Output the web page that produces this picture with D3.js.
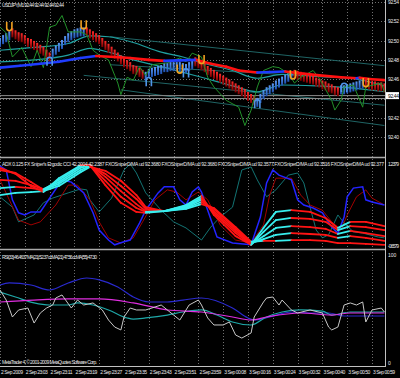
<!DOCTYPE html>
<html>
<head>
<meta charset="utf-8">
<script src="https://cdn.jsdelivr.net/npm/d3@7"></script>
<style>
body { margin: 0; background: #000; }
svg text { font-family: "Liberation Sans", Arial, sans-serif; fill: #e8e8e8; }
</style>
</head>
<body>
<div id="chart"></div>
<script>
// ---- data (bar index = 1 minute) ----
const timeLabels = ["2 Sep 2009", "2 Sep 23:03", "2 Sep 23:11", "2 Sep 23:19", "2 Sep 23:27", "2 Sep 23:35",
  "2 Sep 23:43", "2 Sep 23:51", "2 Sep 23:59", "3 Sep 00:08", "3 Sep 00:16", "3 Sep 00:24",
  "3 Sep 00:32", "3 Sep 00:40", "3 Sep 00:50", "3 Sep 00:59"];
const labelBars = [0, 8, 16, 24, 32, 40, 48, 56, 64, 72, 80, 88, 96, 104, 112, 120];

const priceTicks = [92.40, 92.42, 92.44, 92.46, 92.48, 92.50, 92.52, 92.54];
const bidPrice = 92.443;
const askPrice = 92.440;

// heiken-ashi style staircase, one value per bar, and runs of direction (1 up, -1 down)
const haValues = [
  92.498, 92.501, 92.503, 92.505,
  92.508, 92.506, 92.504, 92.503, 92.501, 92.498, 92.497, 92.495, 92.493, 92.491, 92.489, 92.486, 92.483,
  92.487, 92.490, 92.493, 92.496, 92.500, 92.503, 92.505, 92.507, 92.508, 92.509, 92.509,
  92.509, 92.507, 92.505, 92.503, 92.501, 92.498, 92.495, 92.492, 92.489, 92.486, 92.483, 92.480, 92.477, 92.475, 92.473, 92.470, 92.469, 92.467, 92.465,
  92.463, 92.466, 92.467, 92.468, 92.469, 92.470, 92.472, 92.472, 92.473, 92.473, 92.473, 92.473, 92.472, 92.471, 92.473, 92.475,
  92.478, 92.476, 92.474, 92.472, 92.469, 92.467, 92.465, 92.463, 92.461, 92.459, 92.457, 92.455, 92.453, 92.451, 92.449, 92.447, 92.445, 92.442, 92.440, 92.438,
  92.436, 92.440, 92.444, 92.447, 92.449, 92.451, 92.454, 92.456, 92.458, 92.460, 92.462, 92.464,
  92.465, 92.464, 92.463, 92.462, 92.461, 92.460, 92.459, 92.457, 92.456, 92.454, 92.453, 92.451, 92.450, 92.448, 92.447,
  92.449, 92.449, 92.450, 92.451, 92.452, 92.453, 92.454, 92.455,
  92.455, 92.454, 92.453, 92.453, 92.452, 92.452, 92.451
];
const haRuns = [[4, 1], [13, -1], [11, 1], [19, -1], [16, 1], [20, -1], [12, 1], [15, -1], [8, 1], [7, -1]];

const buySignals = [[16, 92.479], [48, 92.458], [60, 92.467], [83, 92.435], [111, 92.452]];
const sellSignals = [[3, 92.514], [27, 92.516], [58, 92.470], [65, 92.480], [94.5, 92.464], [118, 92.456]];

const trendMA = [[0, 92.472], [6.5, 92.474], [13, 92.476], [19, 92.478], [26, 92.482], [31, 92.484], [37, 92.483],
  [42, 92.482], [48, 92.480], [53, 92.479], [58, 92.4795], [63.5, 92.480], [68, 92.476], [73, 92.473], [77, 92.469],
  [83, 92.467], [87, 92.4675], [92, 92.468], [97, 92.466], [103, 92.464], [110, 92.462], [115, 92.461],
  [116, 92.4615], [120, 92.460], [124, 92.459]];

const bandUpper = [[0, 92.490], [11, 92.493], [22, 92.497], [29, 92.505], [35, 92.504], [43, 92.498], [52, 92.488],
  [59, 92.483], [65, 92.477], [75, 92.469], [83, 92.461], [91, 92.465], [102, 92.463], [113, 92.461], [124, 92.453]];
const bandLower = [[0, 92.478], [11, 92.480], [22, 92.485], [29, 92.492], [35, 92.488], [43, 92.480], [52, 92.473],
  [59, 92.467], [65, 92.462], [75, 92.453], [83, 92.447], [91, 92.454], [102, 92.453], [113, 92.451], [124, 92.447]];

const closes = [[0, 92.514], [2, 92.508], [4, 92.483], [7, 92.493], [10, 92.473], [12, 92.490], [14, 92.472],
  [16, 92.514], [18, 92.516], [20, 92.526], [22, 92.509], [26, 92.509], [28, 92.506], [30, 92.490], [32, 92.485],
  [35, 92.480], [37, 92.464], [38, 92.456], [39, 92.444], [41, 92.462], [43, 92.459], [45, 92.473], [47, 92.464],
  [49, 92.475], [54, 92.477], [58, 92.482], [60, 92.478], [62, 92.487], [65, 92.483], [67, 92.462], [69, 92.452],
  [73, 92.438], [77, 92.431], [79, 92.412], [81, 92.428], [83, 92.452], [85, 92.469], [88, 92.473], [90, 92.472],
  [93, 92.466], [95, 92.456], [97, 92.462], [101, 92.469], [103, 92.461], [107, 92.438], [108, 92.428],
  [110, 92.438], [111, 92.452], [114, 92.454], [117, 92.431], [118, 92.452], [123, 92.456], [124, 92.447]];

const channelLines = [[35.5, 92.504, 124, 92.474], [35.5, 92.475, 124, 92.459], [27, 92.464, 124, 92.433], [39, 92.449, 124, 92.412]];

// sub window 1
const oscTicks = [1.2379, -0.6579];
const ergBlue = [[0, 1.19], [2, 1.10], [4, 0.41], [6, 0.11], [8, 0.06], [10, 0.13], [13, 0.13], [20, 0.87], [23, 0.82],
  [27, 0.57], [30, 0.11], [32, -0.29], [35, -0.52], [37, -0.63], [40, -0.56], [42, -0.52], [45, -0.13], [47, 0.17],
  [51, 0.57], [53, 0.71], [56, 0.71], [58, 0.41], [60, 0.29], [62, 0.59], [64, 0.71], [65, 0.59], [67, 0.17],
  [70, -0.45], [75, -0.59], [81, -0.63], [84, 0.01], [86, 0.80], [88, 1.10], [90, 0.98], [94, 0.87], [96, 0.41],
  [98, 0.29], [101, 0.22], [104, 0.11], [107, -0.22], [109, -0.36], [111, 0.01], [112, 0.48], [114, 0.68],
  [117, 0.71], [118, 0.41], [120, 0.36], [124, 0.29]];
const ergRed = [[0, 0.87], [3, 0.41], [6, -0.06], [10, -0.17], [13, -0.10], [18, 0.29], [22, 0.75], [25, 0.75], [29, 0.41],
  [32, -0.10], [35, -0.47], [39, -0.59], [43, -0.47], [46, -0.10], [50, 0.41], [54, 0.64], [57, 0.59], [60, 0.41],
  [64, 0.59], [67, 0.41], [71, -0.17], [76, -0.52], [81, -0.59], [85, -0.17], [87, 0.52], [89, 0.91], [94, 0.91],
  [97, 0.52], [100, 0.29], [104, 0.17], [107, -0.10], [110, -0.29], [112, 0.06], [115, 0.48], [118, 0.64],
  [120, 0.45], [124, 0.29]];
const adxTeal = [[0, 0.48], [4, 0.24], [6, -0.10], [11, 0.06], [14, 0.34], [17, 0.45], [22, 0.57], [26, 0.66], [28, 0.64],
  [29, 0.41], [32, 0.13], [36, 0.45], [40, 1.10], [42, 1.24], [44, 1.03], [47, 0.57], [52, 0.17], [56, -0.10],
  [60, -0.24], [65, -0.52], [68, -0.22], [71, 0.01], [75, 0.24], [78, 1.10], [81, 1.17], [83, 0.87], [86, 0.48],
  [89, 0.64], [93, 0.98], [96, 1.03], [98, 0.80], [100, 0.24], [102, -0.29], [104, -0.47], [106, -0.40],
  [109, 0.06], [111, -0.13], [114, -0.33], [117, -0.36], [122, -0.45], [124, -0.47]];
const ribbonBars = [0, 5, 10, 14, 19, 26, 29, 34, 39, 44, 47, 53, 60, 65, 69, 76, 81, 85, 89, 94, 100, 105, 109, 113, 118, 124];
const ribbonA = [1.15, 1.01, 0.73, 0.59, 0.91, 1.21, 1.21, 0.75, 0.34, 0.13, 0.11, 0.15, 0.29, 0.50, 0.06, -0.43, -0.63, -0.24, 0.13, 0.17, 0.13, -0.01, -0.24, -0.10, -0.10, -0.20];
const ribbonB = [1.10, 1.03, 0.82, 0.64, 0.87, 1.19, 1.21, 0.85, 0.48, 0.22, 0.13, 0.15, 0.27, 0.45, 0.11, -0.36, -0.63, -0.33, -0.06, -0.01, -0.03, -0.10, -0.29, -0.20, -0.22, -0.29];
const ribbonC = [0.87, 0.85, 0.75, 0.66, 0.82, 1.15, 1.21, 0.94, 0.61, 0.31, 0.15, 0.15, 0.24, 0.41, 0.15, -0.31, -0.61, -0.43, -0.24, -0.20, -0.22, -0.26, -0.38, -0.31, -0.36, -0.43];
const ribbonD = [0.68, 0.71, 0.68, 0.64, 0.78, 1.10, 1.19, 1.01, 0.73, 0.43, 0.20, 0.15, 0.22, 0.36, 0.20, -0.26, -0.59, -0.50, -0.40, -0.36, -0.38, -0.40, -0.47, -0.43, -0.47, -0.54];
const ribbonE = [0.52, 0.57, 0.59, 0.61, 0.73, 1.05, 1.17, 1.08, 0.85, 0.52, 0.24, 0.15, 0.20, 0.31, 0.22, -0.22, -0.56, -0.54, -0.54, -0.52, -0.52, -0.54, -0.59, -0.59, -0.61, -0.63];

// sub window 2
const rsiTicks = [100, 0];
const rsiLine = [[0, 67.6], [2, 58.3], [4, 42.6], [6, 49.1], [9, 50.9], [11, 37.0], [13, 46.3], [15, 50.9], [17, 53.7],
  [18, 60.2], [20, 63.0], [23, 50.9], [25, 58.3], [27, 53.7], [30, 55.6], [33, 49.1], [35, 39.8], [37, 33.3],
  [39, 30.6], [40, 42.6], [42, 50.9], [44, 49.1], [47, 49.1], [52, 53.7], [56, 44.4], [58, 39.8], [61, 53.7],
  [64, 58.3], [65, 53.7], [67, 41.7], [69, 35.2], [72, 35.2], [74, 38.0], [76, 25.9], [78, 23.1], [81, 27.8],
  [82, 42.6], [85, 56.5], [86, 60.2], [88, 61.1], [90, 53.7], [91, 58.3], [94, 49.1], [96, 46.3], [100, 49.1],
  [104, 46.3], [106, 33.3], [107, 30.6], [109, 33.3], [111, 53.7], [113, 55.6], [115, 53.7], [117, 56.5],
  [118, 38.0], [120, 49.1], [123, 50.9], [124, 47.2]];
const rsiMaBlue = [[0, 72.2], [3, 74.1], [10, 72.2], [16, 67.6], [22, 74.1], [28, 78.7], [32, 76.9], [38, 70.4], [43, 61.1],
  [48, 56.5], [54, 56.5], [59, 58.3], [65, 60.2], [75, 50.9], [80, 41.7], [82, 39.8], [87, 42.6], [94, 47.2],
  [100, 46.3], [106, 46.3], [111, 43.5], [116, 43.5], [124, 43.5]];
const rsiMaMagenta = [[0, 56.5], [11, 58.3], [22, 59.3], [32, 59.3], [43, 55.6], [54, 49.1], [65, 47.2], [75, 42.6],
  [81, 39.8], [86, 42.6], [97, 46.3], [107, 44.4], [113, 46.3], [124, 46.3]];
const rsiMaTeal = [[0, 65.7], [5, 61.1], [11, 55.6], [16, 53.7], [22, 53.7], [25, 55.6], [30, 53.7], [35, 49.1], [41, 41.7],
  [43, 40.7], [47, 41.7], [54, 44.4], [59, 47.2], [65, 49.1], [70, 44.4], [75, 38.0], [81, 35.2], [86, 42.6],
  [91, 47.2], [97, 49.1], [104, 48.1], [107, 44.4], [113, 47.2], [124, 47.2]];

// ---- layout ----
const W = 400, H = 378, plotW = 385;
const svg = d3.select("#chart").append("svg")
  .attr("width", W).attr("height", H)
  .style("background", "#000");

const x = d3.scaleLinear().domain([0, 124]).range([0, 384.4]);
const yPrice = d3.scaleLinear().domain([92.40, 92.54]).range([137.1, 2]);
const yOsc = d3.scaleLinear().domain([-0.6579, 1.2379]).range([246, 164]);
const yRsi = d3.scaleLinear().domain([0, 100]).range([363, 255]);

const defs = svg.append("defs");
[["p1", 0, 157], ["p2", 158, 91], ["p3", 251, 115]].forEach(([id, y0, h]) => {
  defs.append("clipPath").attr("id", id).append("rect")
    .attr("x", 0).attr("y", y0).attr("width", plotW).attr("height", h);
});
function grad(id, top, bottom) {
  const g = defs.append("linearGradient").attr("id", id)
    .attr("x1", 0).attr("x2", 0).attr("y1", 0).attr("y2", 1);
  g.append("stop").attr("offset", "0%").attr("stop-color", top);
  g.append("stop").attr("offset", "100%").attr("stop-color", bottom);
}
grad("haUp", "#5a9af5", "#1c4fb0");
grad("haDn", "#ff2a2a", "#7a0000");

// vertical grid through all windows
svg.append("g").selectAll("line").data(labelBars).join("line")
  .attr("x1", d => Math.round(x(d)) + 0.5).attr("x2", d => Math.round(x(d)) + 0.5)
  .attr("y1", 0).attr("y2", 366)
  .attr("stroke", "#707070").attr("stroke-width", 1).attr("stroke-dasharray", "1,2");

// horizontal price grid
svg.append("g").selectAll("line").data(priceTicks).join("line")
  .attr("x1", 0).attr("x2", plotW)
  .attr("y1", d => Math.round(yPrice(d)) + 0.5).attr("y2", d => Math.round(yPrice(d)) + 0.5)
  .attr("stroke", "#707070").attr("stroke-dasharray", "1,2");

// ---- main window ----
const g1 = svg.append("g").attr("clip-path", "url(#p1)");

g1.selectAll(".chan").data(channelLines).join("line")
  .attr("x1", d => x(d[0])).attr("y1", d => yPrice(d[1]))
  .attr("x2", d => x(d[2])).attr("y2", d => yPrice(d[3]))
  .attr("stroke", "#1f6464").attr("stroke-width", 1);

[bidPrice, askPrice].forEach(p => {
  g1.append("line").attr("x1", 0).attr("x2", plotW)
    .attr("y1", yPrice(p)).attr("y2", yPrice(p))
    .attr("stroke", "#8a8a8a").attr("stroke-width", 1);
});

const linePrice = d3.line().x(d => x(d[0])).y(d => yPrice(d[1])).curve(d3.curveMonotoneX);
[bandUpper, bandLower].forEach(b => {
  g1.append("path").attr("d", linePrice(b)).attr("fill", "none")
    .attr("stroke", "#1fa0a0").attr("stroke-width", 1.2);
});

// staircase bars
const haDir = [];
haRuns.forEach(([n, dir]) => { for (let i = 0; i < n; i++) haDir.push(dir); });
g1.selectAll(".ha").data(haValues).join("rect")
  .attr("x", (d, i) => x(i) - 1)
  .attr("y", d => yPrice(d) - 4.5)
  .attr("width", 2).attr("height", 9)
  .attr("fill", (d, i) => haDir[i] > 0 ? "url(#haUp)" : "url(#haDn)");

g1.append("path").attr("d", d3.line().x(d => x(d[0])).y(d => yPrice(d[1]))(closes))
  .attr("fill", "none").attr("stroke", "#22912a").attr("stroke-width", 1);

// trend MA coloured by slope
const maSegs = d3.pairs(trendMA);
g1.selectAll(".ma").data(maSegs).join("line")
  .attr("x1", d => x(d[0][0])).attr("y1", d => yPrice(d[0][1]))
  .attr("x2", d => x(d[1][0])).attr("y2", d => yPrice(d[1][1]))
  .attr("stroke", d => d[1][1] >= d[0][1] ? "#1f3cff" : "#ff1010")
  .attr("stroke-width", 2.6).attr("stroke-linecap", "round");

g1.selectAll(".sell").data(sellSignals).join("path")
  .attr("transform", d => `translate(${x(d[0])},${yPrice(d[1])})`)
  .attr("d", "M-2.6,-5V1A2.6,2.6 0 0 0 2.6,1V-5")
  .attr("fill", "none").attr("stroke", "#f0a020").attr("stroke-width", 1.6);
g1.selectAll(".buy").data(buySignals).join("path")
  .attr("transform", d => `translate(${x(d[0])},${yPrice(d[1])})`)
  .attr("d", "M-2.6,5V-1A2.6,2.6 0 0 1 2.6,-1V5")
  .attr("fill", "none").attr("stroke", "#4f95e8").attr("stroke-width", 1.6);

// ---- sub window 1 ----
const g2 = svg.append("g").attr("clip-path", "url(#p2)");
const lineOsc = d3.line().x(d => x(d[0])).y(d => yOsc(d[1]));
g2.append("path").attr("d", lineOsc(adxTeal)).attr("fill", "none").attr("stroke", "#137474").attr("stroke-width", 1);
g2.append("path").attr("d", lineOsc(ergRed)).attr("fill", "none").attr("stroke", "#a00000").attr("stroke-width", 1);
g2.append("path").attr("d", lineOsc(ergBlue)).attr("fill", "none").attr("stroke", "#2424ff").attr("stroke-width", 1.5);

[ribbonE, ribbonD, ribbonC, ribbonB, ribbonA].forEach(vals => {
  const pts = vals.map((v, i) => [ribbonBars[i], v]);
  g2.append("g").selectAll("line").data(d3.pairs(pts)).join("line")
    .attr("x1", d => x(d[0][0])).attr("y1", d => yOsc(d[0][1]))
    .attr("x2", d => x(d[1][0])).attr("y2", d => yOsc(d[1][1]))
    .attr("stroke", d => d[1][1] > d[0][1] ? "#38eeee" : "#ff1414")
    .attr("stroke-width", 1.8).attr("stroke-linecap", "round");
});

// ---- sub window 2 ----
const g3 = svg.append("g").attr("clip-path", "url(#p3)");
const lineRsi = d3.line().x(d => x(d[0])).y(d => yRsi(d[1]));
g3.append("path").attr("d", lineRsi.curve(d3.curveMonotoneX)(rsiMaBlue)).attr("fill", "none").attr("stroke", "#2a2ad0").attr("stroke-width", 1.2);
g3.append("path").attr("d", lineRsi(rsiMaTeal)).attr("fill", "none").attr("stroke", "#1fa8a8").attr("stroke-width", 1.2);
g3.append("path").attr("d", lineRsi(rsiMaMagenta)).attr("fill", "none").attr("stroke", "#e02ee0").attr("stroke-width", 1.2);
g3.append("path").attr("d", lineRsi.curve(d3.curveLinear)(rsiLine)).attr("fill", "none").attr("stroke", "#c8c8c8").attr("stroke-width", 1);

// ---- frame ----
[157.5, 249.5].forEach(yy => {
  svg.append("line").attr("x1", 0).attr("x2", plotW).attr("y1", yy).attr("y2", yy)
    .attr("stroke", "#a8a8a8").attr("stroke-width", 1.6);
});
svg.append("line").attr("x1", 0).attr("x2", plotW).attr("y1", 366.5).attr("y2", 366.5).attr("stroke", "#c0c0c0");
svg.append("line").attr("x1", plotW + 0.5).attr("x2", plotW + 0.5).attr("y1", 0).attr("y2", 367).attr("stroke", "#c0c0c0");

// right scale labels (the one under the bid box is covered, as in MT4)
svg.append("g").selectAll("text")
  .data(priceTicks.filter(p => Math.abs(yPrice(p) - yPrice(bidPrice)) > 7))
  .join("text")
  .attr("x", 388).attr("y", d => yPrice(d) + 2)
  .attr("font-size", 5).attr("textLength", 11)
  .text(d => d.toFixed(2));
svg.append("rect").attr("x", 386).attr("y", yPrice(bidPrice) - 3.5).attr("width", 13).attr("height", 7).attr("fill", "#fff");
svg.append("text").attr("x", 388).attr("y", yPrice(bidPrice) + 2)
  .attr("font-size", 5).attr("textLength", 11).style("fill", "#000").text(bidPrice.toFixed(2));

svg.append("g").selectAll("text").data(oscTicks).join("text")
  .attr("x", 388).attr("y", d => yOsc(d) + 2)
  .attr("font-size", 5).attr("textLength", 11).text(d => d.toFixed(4));
svg.append("g").selectAll("text").data(rsiTicks).join("text")
  .attr("x", 388).attr("y", d => yRsi(d) + 2)
  .attr("font-size", 5).text(d => d);

// window titles
svg.append("text").attr("x", 2).attr("y", 7).attr("font-size", 5).attr("textLength", 62)
  .text("USDJPY,M1  92.44 92.44 92.44 92.44");
svg.append("text").attr("x", 2).attr("y", 166).attr("font-size", 5).attr("textLength", 382)
  .text("ADX 0.125  FX Sniper's Ergodic CCI 42.2004 42.2387  FXOSniperD/MA ud 92.3680  FXOSniperD/MA ud 92.3680  FXOSniperD/MA ud 92.3577  FXOSniperD/MA ud 92.3516  FXOSniperD/MA ud 92.377");
svg.append("text").attr("x", 2).attr("y", 259).attr("font-size", 5).attr("textLength", 95)
  .text("RSI(33) 46.4637  MA(21) 52.37  ccMA(21) 47.56  ccMA(55) 47.30");
svg.append("text").attr("x", 2).attr("y", 364).attr("font-size", 5).attr("textLength", 95)
  .text("MetaTrader 4, \u00a9 2001-2009 MetaQuotes Software Corp.");

// time axis
svg.append("g").selectAll("text").data(labelBars).join("text")
  .attr("x", d => x(d) + 1).attr("y", 374)
  .attr("font-size", 5).attr("textLength", 22)
  .text((d, i) => timeLabels[i]);
</script>
</body>
</html>
